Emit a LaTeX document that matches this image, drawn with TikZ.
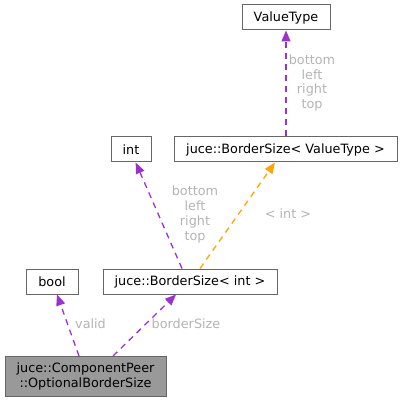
\documentclass[tikz,border=0pt]{standalone}
\usepackage{fontspec}
\setmainfont{DejaVu Sans}
\usetikzlibrary{arrows.meta}
\definecolor{edgepurple}{HTML}{9A32CD}
\definecolor{edgeorange}{HTML}{FFA500}
\definecolor{boxgray}{HTML}{666666}
\definecolor{labgray}{HTML}{B4B4B4}
\definecolor{cpfill}{HTML}{999999}
\begin{document}
\begin{tikzpicture}[x=1pt,y=-1pt,
  box/.style={draw=boxgray,line width=1pt,rectangle,inner sep=0pt,minimum height=25pt,font=\fontsize{12.8}{15}\selectfont,align=center},
  rel/.style={draw=edgepurple,line width=1.3pt,dash pattern=on 6pt off 5pt,-{Triangle[length=11pt,width=9pt]}},
  tmpl/.style={draw=edgeorange,line width=1.3pt,dash pattern=on 6pt off 5pt,-{Triangle[length=11pt,width=9pt]}},
  lab/.style={text=labgray,font=\fontsize{12.8}{14.7}\selectfont,align=center,inner sep=0pt}]
\useasboundingbox (0,0) rectangle (403,403);
\node[box,minimum width=88pt] (vt) at (286,17.5) {ValueType};
\node[box,minimum width=40pt] (int) at (131,149.5) {int};
\node[box,minimum width=223pt] (bsvt) at (285.5,149.5) {juce::BorderSize< ValueType >};
\node[box,minimum width=52pt] (bool) at (52,281.5) {bool};
\node[box,minimum width=174pt] (bsint) at (190,281.5) {juce::BorderSize< int >};
\node[box,minimum width=161pt,minimum height=40pt,fill=cpfill] (cp) at (85.5,376.5) {juce::ComponentPeer\\::OptionalBorderSize};
\draw[rel] ([xshift=0.5pt]bsvt.north) -- (vt.south);
\draw[rel] ([xshift=-8pt]bsint.north) -- ([xshift=4.7pt]int.south);
\draw[tmpl] ([xshift=10pt]bsint.north) -- ([xshift=-10.5pt]bsvt.south);
\draw[rel] ([xshift=-6.5pt]cp.north) -- ([xshift=5pt]bool.south);
\draw[rel] ([xshift=27.5pt]cp.north) -- ([xshift=-14pt]bsint.south);
\node[lab] (l1) at (312,83) {bottom\\left\\right\\top};
\node[lab] (l2) at (195,214.5) {bottom\\left\\right\\top};
\node[lab] (l3) at (288,214) {< int >};
\node[lab] (l4) at (90.5,324) {valid};
\node[lab] (l5) at (186,324) {borderSize};
\end{tikzpicture}
\end{document}
